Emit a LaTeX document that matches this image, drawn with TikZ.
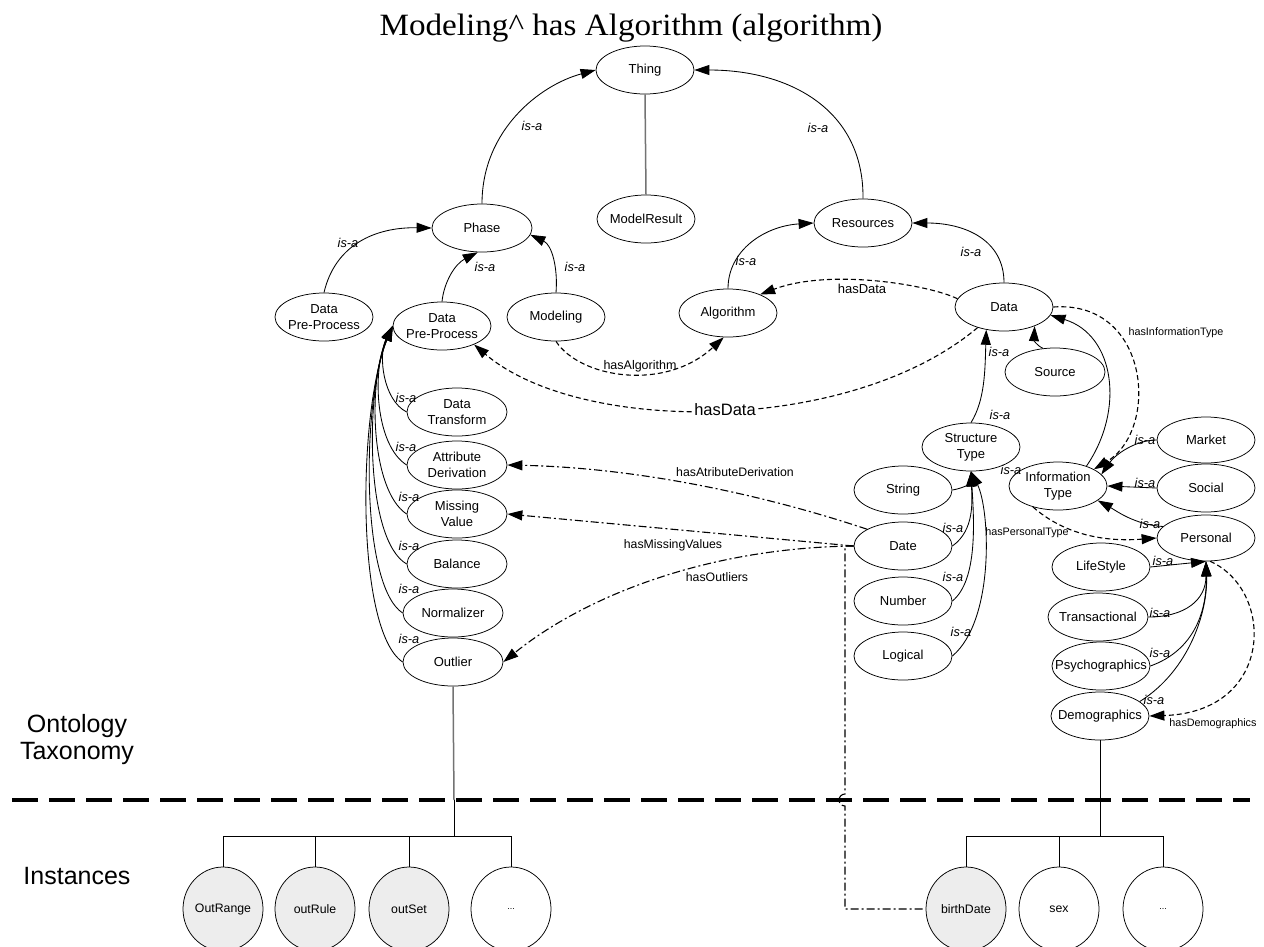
\documentclass[tikz,border=0pt]{standalone}
\usepackage{fontspec}
\setmainfont{Liberation Sans}
\newfontfamily\titlefont{Liberation Serif}
\usetikzlibrary{shapes.geometric,arrows.meta}
\begin{document}
\begin{tikzpicture}[x=1pt,y=1pt,
 ell/.style={draw, ellipse, line width=0.75pt, minimum width=98pt, minimum height=48pt, inner xsep=-40pt, inner ysep=-20pt, align=center, font=\fontsize{13}{16}\selectfont},
 inst/.style={draw, ellipse, line width=0.75pt, minimum width=80pt, minimum height=84pt, inner xsep=-30pt, inner ysep=-20pt, font=\fontsize{12.3}{14}\selectfont},
 gfill/.style={fill=black!7},
 isa/.style={line width=0.85pt, -{Triangle[length=15pt,width=10pt]}},
 rel/.style={isa, line width=1.1pt, dash pattern=on 5pt off 3pt},
 reldd/.style={isa, line width=1.1pt, dash pattern=on 8pt off 3pt on 2pt off 3pt},
 ddline/.style={line width=1.1pt, dash pattern=on 8pt off 3pt on 2pt off 3pt},
 isal/.style={font=\itshape\fontsize{12.8}{14}\selectfont, inner sep=0pt},
 rell/.style={font=\fontsize{12.5}{14}\selectfont, inner sep=0pt},
 sml/.style={font=\fontsize{10.8}{12}\selectfont, inner sep=0pt},
 tree/.style={line width=0.8pt},
 gline/.style={line width=1.5pt, draw=black!55},
 sect/.style={font=\fontsize{25}{27}\selectfont, align=center, inner sep=0pt},
]
\useasboundingbox (0,0) rectangle (1264,-946);
\fill[white] (0,0) rectangle (1264,-946);

% title
\node[inner sep=0pt, anchor=base] (title) at (631,-35) {\titlefont\fontsize{31}{36}\selectfont\scalebox{1.07}[1]{Modeling\textasciicircum{} has Algorithm (algorithm)}};

% ontology nodes
\node[ell] (thing) at (645,-70) {Thing};
\node[ell] (modelresult) at (646,-219) {ModelResult};
\node[ell, minimum width=100pt] (phase) at (482,-228) {Phase};
\node[ell] (dpp1) at (324,-317) {Data\\Pre-Process};
\node[ell] (dpp2) at (442,-326) {Data\\Pre-Process};
\node[ell] (modeling) at (556,-317) {Modeling};
\node[ell] (algorithm) at (728,-313) {Algorithm};
\node[ell] (resources) at (863,-223) {Resources};
\node[ell] (data) at (1004,-307) {Data};
\node[ell, minimum width=100pt] (source) at (1055,-372) {Source};
\node[ell, minimum width=100pt] (dtransform) at (457,-412) {Data\\Transform};
\node[ell, minimum width=100pt] (attrder) at (457,-465) {Attribute\\Derivation};
\node[ell, minimum width=100pt] (missing) at (457,-514) {Missing\\Value};
\node[ell, minimum width=100pt] (balance) at (457,-564) {Balance};
\node[ell, minimum width=100pt] (normalizer) at (453,-613) {Normalizer};
\node[ell, minimum width=100pt] (outlier) at (453,-662) {Outlier};
\node[ell] (structtype) at (971,-447) {Structure\\Type};
\node[ell] (string) at (903,-490) {String};
\node[ell] (date) at (903,-546) {Date};
\node[ell] (number) at (903,-601) {Number};
\node[ell] (logical) at (903,-656) {Logical};
\node[ell] (infotype) at (1058,-486) {Information\\Type};
\node[ell, minimum height=46pt] (market) at (1206,-440) {Market};
\node[ell] (social) at (1206,-488) {Social};
\node[ell, minimum height=46pt] (personal) at (1206,-538) {Personal};
\node[ell] (lifestyle) at (1101,-567) {LifeStyle};
\node[ell, minimum width=100pt] (transactional) at (1098,-617) {Transactional};
\node[ell] (psycho) at (1101,-666) {Psychographics};
\node[ell] (demographics) at (1100,-716) {Demographics};

% instances
\node[inst,gfill] (outrange) at (223,-909) {OutRange};
\node[inst,gfill] (outrule) at (315,-909) {outRule};
\node[inst,gfill] (outset) at (409,-909) {outSet};
\node[inst, font=\fontsize{9}{10}\selectfont] (dotsa) at (511,-909) {...};
\node[inst,gfill] (birthdate) at (966,-909) {birthDate};
\node[inst] (sex) at (1059,-909) {sex};
\node[inst, font=\fontsize{9}{10}\selectfont] (dotsb) at (1163,-909) {...};

% section labels
\node[sect] (onto) at (77,-740) {Ontology\\Taxonomy};
\node[sect] (instl) at (77,-876) {Instances};

% separator
\coordinate (sepL) at (12,-800);
\coordinate (sepR) at (1250,-800);
\draw[line width=4.5pt, dash pattern=on 26pt off 11pt] (sepL) -- (sepR);

% is-a edges (top)
\draw[isa] (phase.north) .. controls (482,-130) and (540,-85) .. (thing.west);
\draw[isa] (resources.north) .. controls (864,-110) and (790,-70) .. (thing.east);
\draw[gline] (thing.south) -- (modelresult.north);
\draw[isa] (dpp1.north) .. controls (335,-245) and (375,-227) .. (phase.west);
\draw[isa] (dpp2.north) .. controls (444,-282) and (455,-264) .. (phase.260);
\draw[isa] (modeling.north) .. controls (558,-268) and (552,-245) .. (phase.-8);
\draw[isa] (algorithm.north) .. controls (728,-250) and (765,-226) .. (resources.west);
\draw[isa] (data.north) .. controls (1004,-240) and (965,-223) .. (resources.east);

% relations top
\draw[rel] (data.170) .. controls (930,-285) and (830,-268) .. (algorithm.30);
\draw[rel] (modeling.south) .. controls (580,-378) and (665,-392) .. (algorithm.-100);
\draw[rel] (data.218) .. controls (850,-435) and (580,-435) .. (dpp2.-30);

% data subclasses
\draw[isa] (source.117) .. controls (1036,-345) and (1034,-340) .. (data.-32);
\draw[isa] (structtype.north) .. controls (985,-400) and (985,-370) .. (data.-128);
\draw[isa] (infotype.35) .. controls (1125,-410) and (1115,-335) .. (data.-10);
\draw[rel] (data.east) .. controls (1150,-300) and (1160,-430) .. (infotype.25);

% information type
\draw[isa] (market.west) .. controls (1135,-440) and (1115,-455) .. (infotype.15);
\draw[isa] (social.west) -- (infotype.east);
\draw[isa] (personal.165) .. controls (1135,-525) and (1115,-510) .. (infotype.-20);
\draw[rel] (infotype.-140) .. controls (1065,-535) and (1105,-542) .. (personal.west);

% personal
\draw[isa] (lifestyle.east) -- (personal.south);
\draw[isa] (transactional.east) .. controls (1185,-617) and (1206,-600) .. (personal.south);
\draw[isa] (psycho.east) .. controls (1195,-650) and (1207,-610) .. (personal.south);
\draw[isa] (demographics.20) .. controls (1190,-670) and (1208,-610) .. (personal.south);
\draw[rel] (personal.-80) .. controls (1275,-590) and (1275,-712) .. (demographics.east);

% structure type
\draw[isa] (string.east) .. controls (965,-488) and (971,-482) .. (structtype.south);
\draw[isa] (date.east) .. controls (975,-530) and (972,-500) .. (structtype.south);
\draw[isa] (number.east) .. controls (978,-580) and (974,-520) .. (structtype.south);
\draw[isa] (logical.east) .. controls (995,-620) and (990,-510) .. (structtype.south);

% pre-process bundle
\draw[isa] (dtransform.west) .. controls (383,-400) and (378,-355) .. (dpp2.west);
\draw[isa] (attrder.west) .. controls (375,-445) and (372,-370) .. (dpp2.west);
\draw[isa] (missing.west) .. controls (370,-490) and (368,-380) .. (dpp2.west);
\draw[isa] (balance.west) .. controls (365,-540) and (365,-390) .. (dpp2.west);
\draw[isa] (normalizer.west) .. controls (360,-585) and (362,-400) .. (dpp2.west);
\draw[isa] (outlier.west) .. controls (355,-630) and (358,-410) .. (dpp2.west);

% date relations
\draw[reldd] (date.155) .. controls (780,-500) and (650,-468) .. (attrder.east);
\draw[reldd] (date.west) -- (missing.east);
\draw[reldd] (date.west) .. controls (700,-548) and (580,-600) .. (outlier.east);
\coordinate (jd) at (845,-546);
\coordinate (jh) at (845,-794);
\draw[ddline] (date.west) -- (jd) -- (jh) arc[start angle=90, end angle=270, radius=6pt] |- (birthdate.west);

% instance trees
\coordinate (t1m) at (454,-800);
\coordinate (t1) at (454,-836);
\draw[gline] (outlier.south) -- (t1m);
\draw[tree] (t1m) -- (t1);
\draw[tree] (outrange.north) |- (dotsa.north |- t1) -- (dotsa.north);
\draw[tree] (outrule.north) -- (outrule.north |- t1);
\draw[tree] (outset.north) -- (outset.north |- t1);
\coordinate (t2) at (1100,-836);
\draw[tree] (demographics.south) -- (t2);
\draw[tree] (birthdate.north) |- (dotsb.north |- t2) -- (dotsb.north);
\draw[tree] (sex.north) -- (sex.north |- t2);

% is-a labels
\node[isal] (i1) at (532,-126) {is-a};
\node[isal] (i2) at (818,-128) {is-a};
\node[isal] (i3) at (348,-243) {is-a};
\node[isal] (i4) at (485,-267) {is-a};
\node[isal] (i5) at (575,-267) {is-a};
\node[isal] (i6) at (746,-261) {is-a};
\node[isal] (i7) at (971,-252) {is-a};
\node[isal] (i8) at (999,-352) {is-a};
\node[isal] (i9) at (1000,-415) {is-a};
\node[isal] (i10) at (1011,-470) {is-a};
\node[isal] (i11) at (406,-398) {is-a};
\node[isal] (i12) at (406,-447) {is-a};
\node[isal] (i13) at (409,-497) {is-a};
\node[isal] (i14) at (409,-546) {is-a};
\node[isal] (i15) at (409,-589) {is-a};
\node[isal] (i16) at (409,-639) {is-a};
\node[isal] (i17) at (953,-528) {is-a};
\node[isal] (i18) at (953,-577) {is-a};
\node[isal] (i19) at (961,-632) {is-a};
\node[isal] (i20) at (1145,-440) {is-a};
\node[isal] (i21) at (1145,-483) {is-a};
\node[isal] (i22) at (1150,-524) {is-a};
\node[isal] (i23) at (1163,-561) {is-a};
\node[isal] (i24) at (1160,-613) {is-a};
\node[isal] (i25) at (1160,-653) {is-a};
\node[isal] (i26) at (1154,-700) {is-a};

% relation labels
\node[rell, font=\fontsize{13}{15}\selectfont] (r1) at (862,-289) {hasData};
\node[rell] (r2) at (640,-366) {hasAlgorithm};
\node[rell, font=\fontsize{16.5}{18}\selectfont, fill=white, inner sep=1pt] (r3) at (725,-410) {hasData};
\node[sml] (r4) at (1176,-333) {hasInformationType};
\node[rell, font=\fontsize{12.3}{14}\selectfont] (r5) at (735,-472) {hasAtributeDerivation};
\node[rell, font=\fontsize{12.3}{14}\selectfont] (r6) at (673,-545) {hasMissingValues};
\node[rell, font=\fontsize{12.3}{14}\selectfont] (r7) at (717,-577) {hasOutliers};
\node[sml] (r8) at (1027,-533) {hasPersonalType};
\node[sml] (r9) at (1213,-724) {hasDemographics};
\end{tikzpicture}
\end{document}
